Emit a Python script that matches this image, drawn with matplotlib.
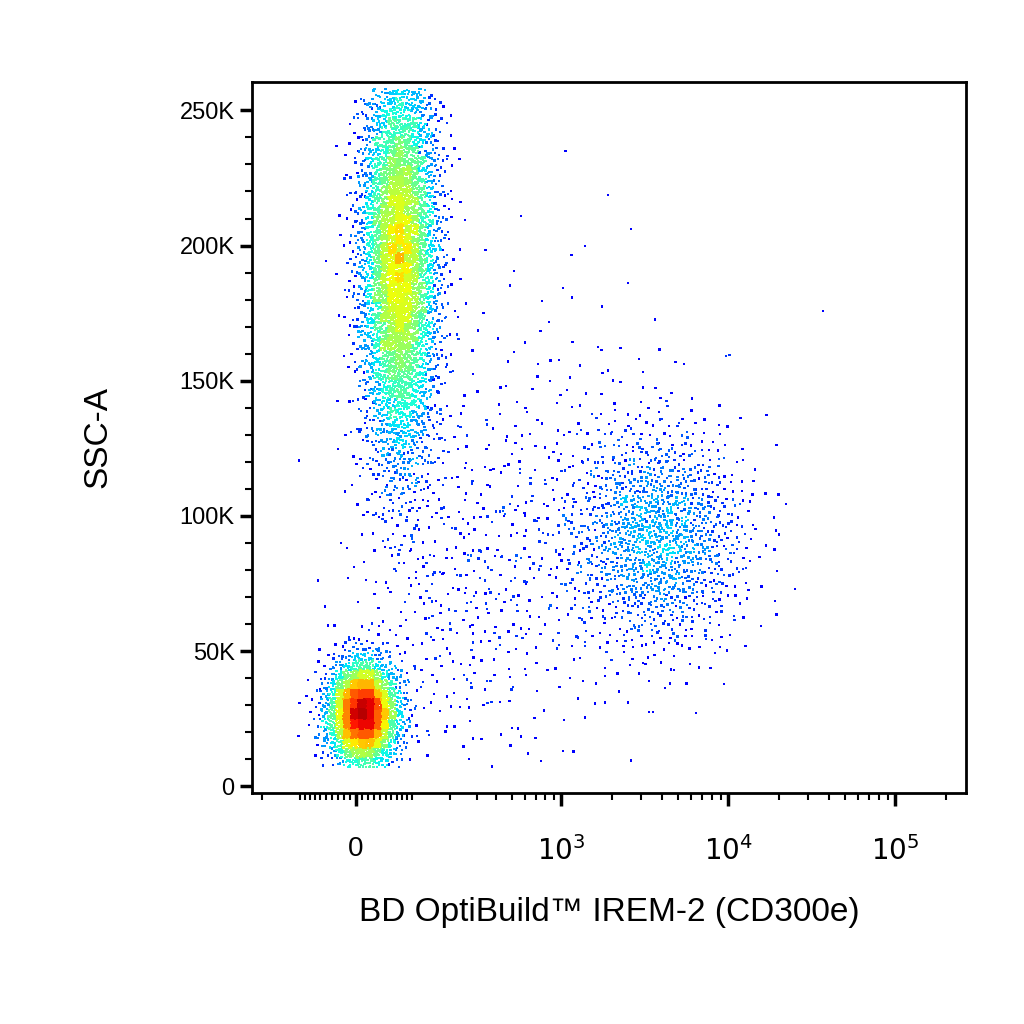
import matplotlib
matplotlib.use("Agg")
import matplotlib.pyplot as plt
import numpy as np

plt.rcParams["font.family"] = ["Liberation Sans", "DejaVu Sans"]

# populations: centre / spread in asinh units (x) and SSC (y)
pop_names = ["debris", "granulocytes", "monocytes", "bridge", "sparse"]
pop_t_centre = [0.10, 0.60, 4.15, 2.6, 1.4]
pop_t_spread = [0.25, 0.27, 0.62, 1.1, 0.8]
pop_y_centre = [27000, 195000, 92000, 100000, 70000]
pop_y_spread = [10000, 38000, 21000, 45000, 35000]
pop_count = [2600, 5000, 1300, 350, 300]

ASINH_C = 118.0
x_major = [0, 1e3, 1e4, 1e5]
x_major_labels = ["0", "$10^3$", "$10^4$", "$10^5$"]
y_ticks = [0, 50000, 100000, 150000, 200000, 250000]
y_labels = ["0", "50K", "100K", "150K", "200K", "250K"]


def halton(n, base):
    out = np.zeros(n)
    for i in range(n):
        f, r, k = 1.0, 0.0, i + 1
        while k > 0:
            f /= base
            r += f * (k % base)
            k //= base
        out[i] = r
    return out


def to_t(x):
    return np.arcsinh(np.asarray(x, float) / ASINH_C)


ts, ys = [], []
offset = 0
for tc, tsd, yc, ysd, n in zip(pop_t_centre, pop_t_spread, pop_y_centre, pop_y_spread, pop_count):
    u1 = halton(n + offset, 2)[offset:]
    u2 = halton(n + offset, 3)[offset:]
    offset += n
    r = np.sqrt(-2 * np.log(np.clip(u1, 1e-9, 1)))
    ts.append(tc + tsd * r * np.cos(2 * np.pi * u2))
    ys.append(yc + ysd * r * np.sin(2 * np.pi * u2))
t = np.concatenate(ts)
y = np.concatenate(ys)
keep = (y > 7000) & (y < 258000) & (t > -0.9)
t, y = t[keep], y[keep]

# density colouring
nb = 70
H, te, ye = np.histogram2d(t, y, bins=[nb, nb])
ti = np.clip(np.digitize(t, te) - 1, 0, nb - 1)
yi = np.clip(np.digitize(y, ye) - 1, 0, nb - 1)
dens = H[ti, yi]
order = np.argsort(dens)

fig = plt.figure(figsize=(10.24, 10.24), dpi=100)
ax = fig.add_axes([252 / 1024, 1 - 793 / 1024, 714 / 1024, 711 / 1024])
ax.scatter(t[order], y[order], c=np.sqrt(dens[order]), cmap="jet", s=3,
           marker="s", linewidths=0, vmin=0, vmax=np.sqrt(dens.max()) * 1.05)

ax.set_xticks(to_t(x_major))
ax.set_xticklabels(x_major_labels, fontsize=20)
minor = [-200, -100, 100]
minor += list(-np.arange(10, 100, 10)) + list(np.arange(10, 100, 10))
for d in [100, 1000, 10000]:
    minor += list(np.arange(2, 10) * d)
minor += [200000]
ax.set_xticks(to_t(minor), minor=True)
ax.set_yticks(y_ticks)
ax.set_yticklabels(y_labels, fontsize=17)
ax.set_yticks(np.arange(10000, 260000, 10000), minor=True)
ax.set_xlim(to_t(-233), to_t(265000))
ax.set_ylim(-2500, 260500)
ax.tick_params(which="major", length=9, width=2.5)
ax.tick_params(which="minor", length=5, width=1.5)
ax.tick_params(axis="x", pad=22)
for s in ax.spines.values():
    s.set_linewidth(2)
ax.set_xlabel("BD OptiBuild™ IREM-2 (CD300e)", fontsize=24, labelpad=22)
ax.set_ylabel("SSC-A", fontsize=24, labelpad=48)

fig.savefig("out.png", dpi=100)
